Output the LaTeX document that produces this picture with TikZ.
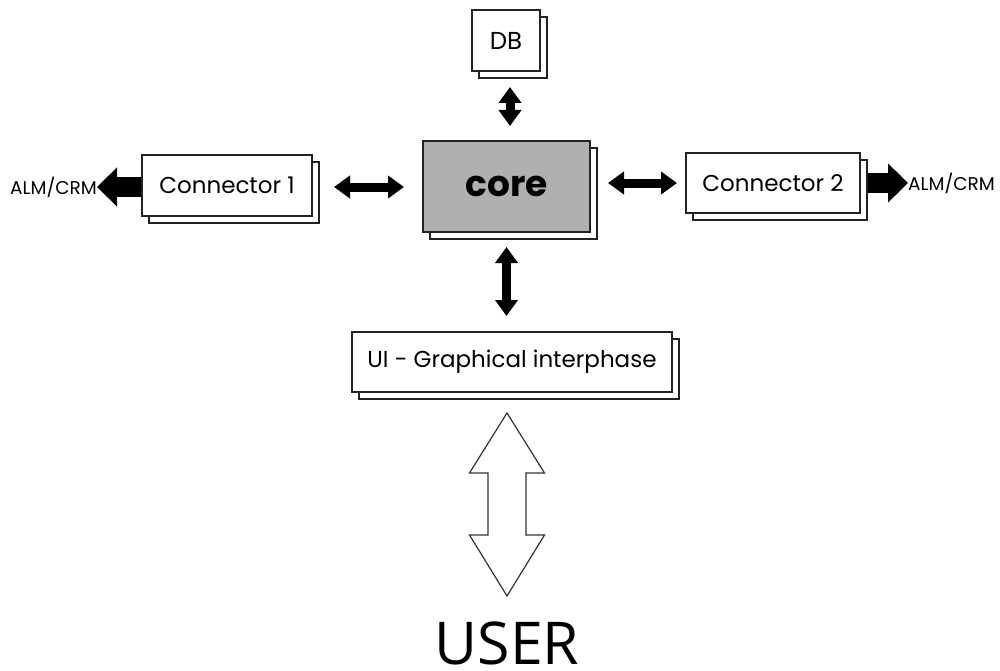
\documentclass[tikz,border=0pt]{standalone}
\usepackage{fontspec}
\setmainfont{Poppins}
\newfontfamily\userfont{Open Sans}
\usetikzlibrary{arrows.meta,shadows,calc}

\definecolor{boxline}{HTML}{222222}
\definecolor{corefill}{HTML}{B0B0B0}
\definecolor{tipline}{HTML}{333333}

\tikzset{
  box/.style={draw=boxline, line width=2pt, fill=white, inner sep=0pt,
    copy shadow={shadow xshift=7pt, shadow yshift=-7pt, fill=white,
      draw=boxline, line width=2pt}},
  boxtext/.style={font=\fontsize{23}{27}\selectfont},
  smallarrow/.style={draw=black, line width=9pt,
    {Triangle[length=16pt,width=22pt]}-{Triangle[length=16pt,width=22pt]}},
  outarrow/.style={draw=black, line width=20pt,
    -{Triangle[length=20pt,width=38pt]}},
  bigarrow/.style={draw=tipline, line width=1.2pt, fill=white, line join=miter},
  extlabel/.style={font=\fontsize{18.5}{20}\selectfont, inner sep=0pt}
}

\begin{document}
\begin{tikzpicture}[x=1pt, y=-1pt]
  \useasboundingbox (0,0) rectangle (1000,671);

  % components
  \node[box, minimum width=68pt, minimum height=61pt,
        font=\fontsize{24.5}{28}\selectfont] (db) at (506,40.5) {DB};
  \node[box, fill=corefill, minimum width=167pt, minimum height=91pt,
        font=\fontsize{36}{42}\selectfont\bfseries] (core) at (506.5,186.5) {core};
  \node[box, minimum width=170pt, minimum height=61pt, boxtext] (conn1) at (227,185.5) {Connector 1};
  \node[box, minimum width=174pt, minimum height=60pt, boxtext] (conn2) at (773,183) {Connector 2};
  \node[box, minimum width=320pt, minimum height=60pt, boxtext] (ui) at (512,362) {UI - Graphical interphase};

  % external systems and user
  \node[extlabel, anchor=east] (alm1) at (97,187) {ALM/CRM};
  \node[extlabel, anchor=west] (alm2) at (908,183) {ALM/CRM};
  \node[font=\userfont\fontsize{59}{66}\selectfont, inner sep=0pt] (user) at (507,643) {USER};

  % links to the core
  \draw[smallarrow, shorten <=15pt, shorten >=14pt]
    ([xshift=4pt]db.south) -- ([xshift=4pt]db.south |- core.north);
  \draw[smallarrow, shorten <=14pt, shorten >=15pt]
    (core.south) -- (core.south |- ui.north);
  \draw[smallarrow, shorten <=21pt, shorten >=18pt]
    ([yshift=-1.5pt]conn1.east) -- ([yshift=-1.5pt]conn1.east -| core.west);
  \draw[smallarrow, shorten <=17pt, shorten >=8pt]
    ([yshift=3.5pt]core.east) -- (conn2.west);

  % links to external systems
  \draw[outarrow] ([yshift=-1.5pt]conn1.west) -- (alm1.east);
  \draw[outarrow, shorten <=7pt] (conn2.east) -- (alm2.west);

  % user interaction arrow
  \coordinate (ut) at ($(ui.south)+(-5,20)$);
  \draw[bigarrow] (ut) -- ++(37.5,60) -- ++(-18.5,0) -- ++(0,62) -- ++(18.5,0)
    -- ++(-37.5,61) -- ++(-37.5,-61) -- ++(18.5,0) -- ++(0,-62) -- ++(-18.5,0) -- cycle;
\end{tikzpicture}
\end{document}
